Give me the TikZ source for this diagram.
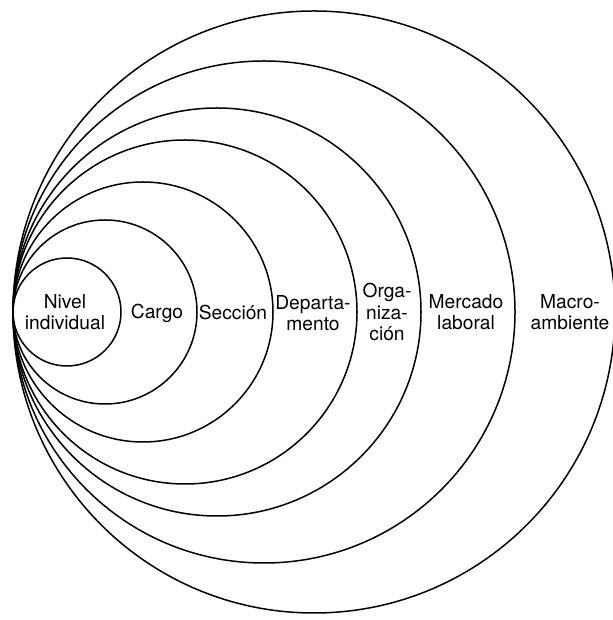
\documentclass[tikz,border=0pt]{standalone}
\usepackage{fontspec}
\setmainfont{TeX Gyre Heros}
\usepackage{tikz}
\usetikzlibrary{positioning}
\tikzset{
  ring/.style={draw=black, line width=0.75pt},
  lbl/.style={align=center, inner sep=1pt, font=\fontsize{9.6}{10.6}\selectfont}
}
\begin{document}
\begin{tikzpicture}[x=0.5pt, y=0.5pt]
\useasboundingbox (0,0) rectangle (613,620);
% nested rings, all touching at the left point
\coordinate (touch) at (13,308);
\draw[ring] (67,308) circle (54);
\draw[ring] (105,308) circle (92);
\draw[ring] (143,308) circle (130);
\draw[ring] (185,308) circle (172);
\draw[ring] (217,308) circle (204);
\draw[ring] (264,308) circle (251);
\draw[ring] (314,308) circle (301);
% labels
\node[lbl] (nivel) at (65,308) {Nivel\\individual};
\node[lbl] (cargo) at (157,307) {Cargo};
\node[lbl] (seccion) at (233,307) {Sección};
\node[lbl] (depto) at (313,307) {Departa-\\mento};
\node[lbl] (org) at (387,308) {Orga-\\niza-\\ción};
\node[lbl] (mercado) at (466,308) {Mercado\\laboral};
\node[lbl] (macro) at (570,308) {Macro-\\ambiente};
\end{tikzpicture}
\end{document}
